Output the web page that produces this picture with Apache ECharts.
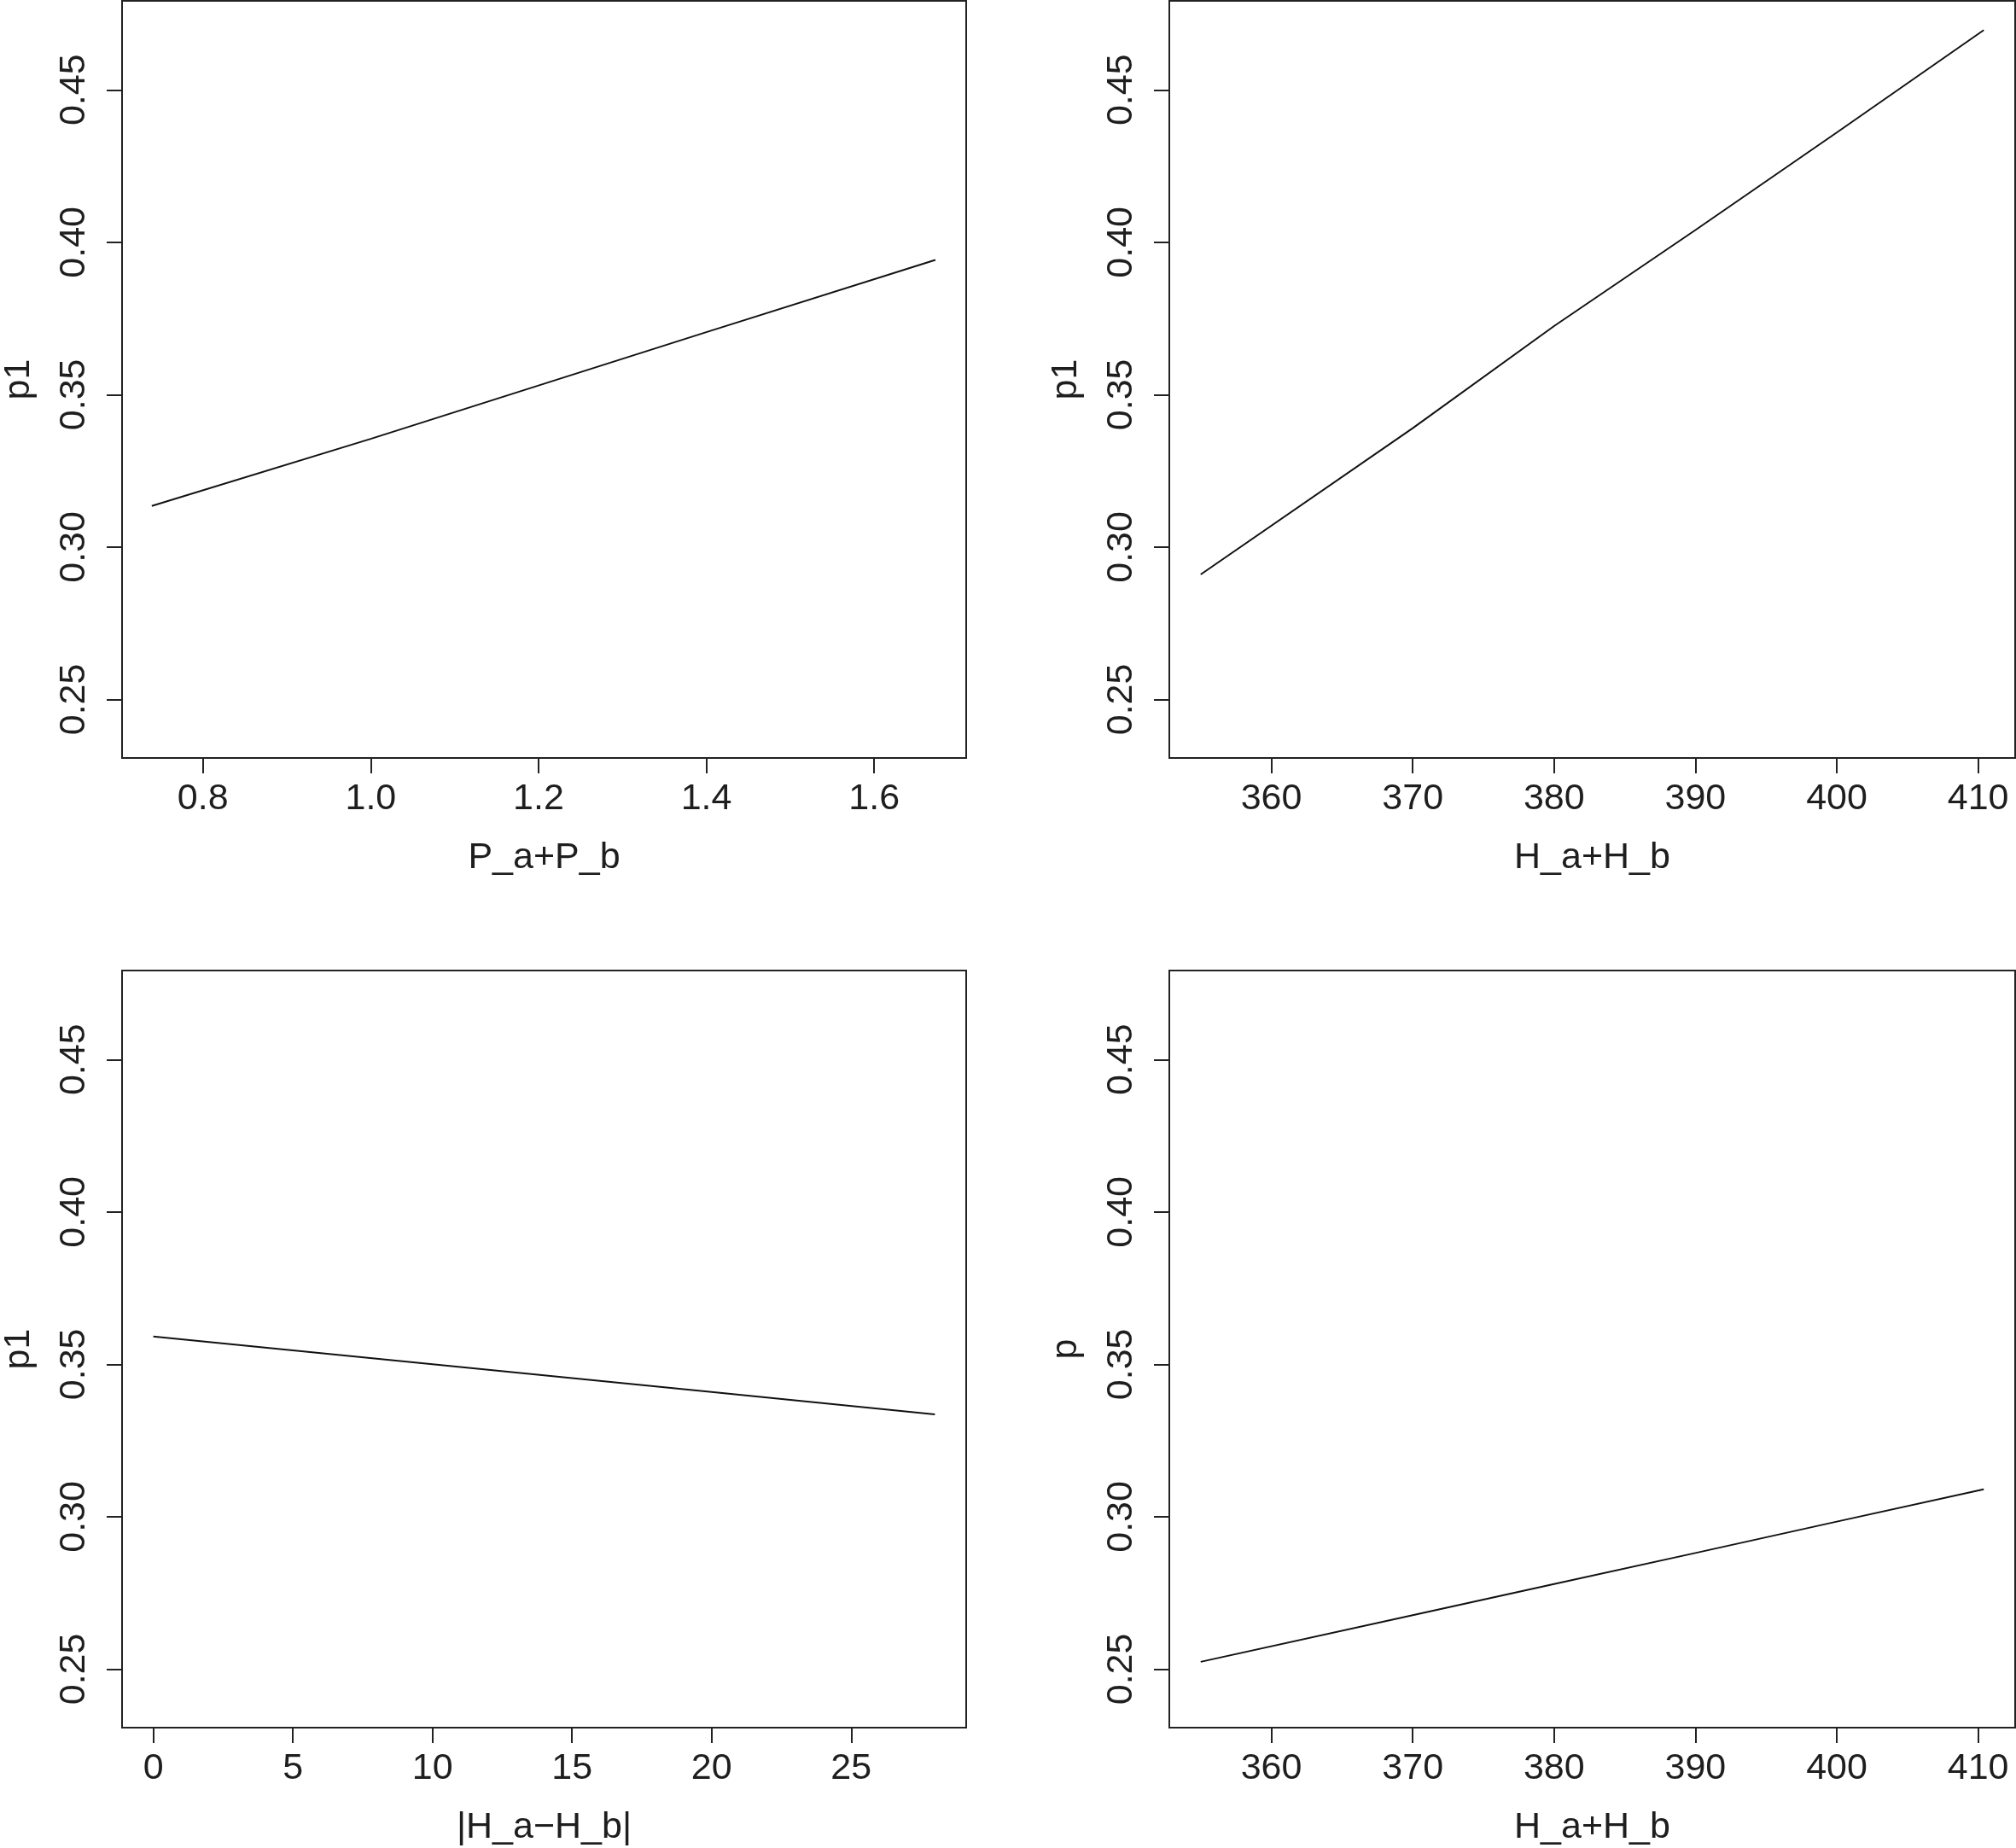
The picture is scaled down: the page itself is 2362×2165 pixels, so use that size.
<!DOCTYPE html>
<html>
<head>
<meta charset="utf-8">
<script src="https://cdn.jsdelivr.net/npm/echarts@6/dist/echarts.min.js"></script>
<style>
html,body{margin:0;padding:0;background:#fff;}
#chart{width:2362px;height:2165px;}
</style>
</head>
<body>
<div id="chart"></div>
<script>
// ---- data ----
const yTicks = [0.25, 0.30, 0.35, 0.40, 0.45];

const xPaPb = [0.739, 1.0, 1.2, 1.4, 1.673];
const p1PaPb = [0.3135, 0.3355, 0.353, 0.3705, 0.3942];
const xTicksPaPb = [0.8, 1.0, 1.2, 1.4, 1.6];

const xHsum = [355, 370, 380, 390, 400, 410.4];
const p1Hsum = [0.291, 0.339, 0.3725, 0.404, 0.436, 0.4696];
const pHsum = [0.2524, 0.2677, 0.2779, 0.2881, 0.2984, 0.309];
const xTicksHsum = [360, 370, 380, 390, 400, 410];

const xHdiff = [0, 10, 20, 28];
const p1Hdiff = [0.3591, 0.350, 0.3409, 0.3336];
const xTicksHdiff = [0, 5, 10, 15, 20, 25];

const xNames = ['P_a+P_b', 'H_a+H_b', '|H_a\u2212H_b|', 'H_a+H_b'];
const yNames = ['p1', 'p1', 'p1', 'p'];

// ---- layout ----
const FONT = 'Liberation Sans, Arial, Helvetica, sans-serif';
const FS = 43;
const TXT = '#1e1e1e';
const cols = [141, 1370];
const rows = [1, 1137];
const W = 991, H = 887;

const panels = [
  {x: xPaPb, y: p1PaPb, ticks: xTicksPaPb, min: 0.7036, max: 1.7097, fmt: v => v.toFixed(1)},
  {x: xHsum, y: p1Hsum, ticks: xTicksHsum, min: 352.78, max: 412.62, fmt: v => String(v)},
  {x: xHdiff, y: p1Hdiff, ticks: xTicksHdiff, min: -1.12, max: 29.12, fmt: v => String(v)},
  {x: xHsum, y: pHsum, ticks: xTicksHsum, min: 352.78, max: 412.62, fmt: v => String(v)}
];

const grid = [], xAxis = [], yAxis = [], series = [];
panels.forEach((p, i) => {
  grid.push({
    left: cols[i % 2], top: rows[Math.floor(i / 2)], width: W, height: H,
    show: true, borderColor: '#222', borderWidth: 2, backgroundColor: 'transparent',
    containLabel: false
  });
  xAxis.push({
    type: 'value', gridIndex: i, min: p.min, max: p.max, position: 'bottom',
    name: xNames[i], nameLocation: 'middle', nameGap: 96,
    nameTextStyle: {fontSize: FS, color: TXT, fontFamily: FONT},
    axisLine: {show: false, onZero: false},
    splitLine: {show: false},
    axisTick: {show: true, length: 18, inside: false, customValues: p.ticks,
      lineStyle: {color: '#222', width: 2}},
    axisLabel: {show: true, customValues: p.ticks, formatter: p.fmt, margin: 27,
      fontSize: FS, color: TXT, fontFamily: FONT}
  });
  yAxis.push({
    type: 'value', gridIndex: i, min: 0.2308, max: 0.4792, position: 'left',
    name: yNames[i], nameLocation: 'middle', nameGap: 99,
    nameTextStyle: {fontSize: FS, color: TXT, fontFamily: FONT},
    axisLine: {show: false, onZero: false},
    splitLine: {show: false},
    axisTick: {show: true, length: 18, inside: false, customValues: yTicks,
      lineStyle: {color: '#222', width: 2}},
    axisLabel: {show: true, customValues: yTicks, formatter: v => v.toFixed(2),
      rotate: 90, margin: 34, fontSize: FS, color: TXT, fontFamily: FONT}
  });
  series.push({
    type: 'line', xAxisIndex: i, yAxisIndex: i,
    data: p.x.map((xv, k) => [xv, p.y[k]]),
    showSymbol: false, symbol: 'none', smooth: false,
    lineStyle: {color: '#111', width: 2},
    animation: false, silent: true
  });
});

const chart = echarts.init(document.getElementById('chart'), null, {renderer: 'canvas'});
chart.setOption({
  backgroundColor: '#fff',
  animation: false,
  grid, xAxis, yAxis, series
});
</script>
</body>
</html>
